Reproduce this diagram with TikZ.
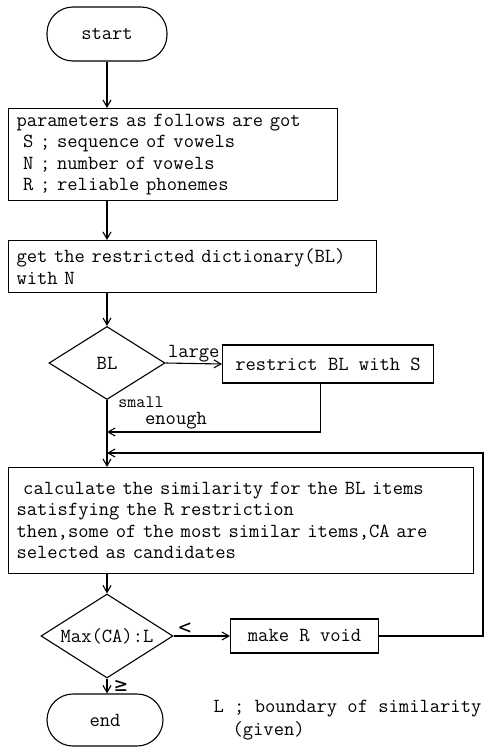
\documentclass[tikz,border=0pt]{standalone}
\usepackage{fontspec}
\newfontfamily\symfont{DejaVu Sans Mono}
\usetikzlibrary{shapes.geometric,arrows.meta,calc}
\newcommand\diagfont{\fontsize{20}{21.5}\selectfont\ttfamily}
\begin{document}
\begin{tikzpicture}[x=1pt,y=-1pt,
  line width=1.1pt,
  box/.style={draw, align=left, anchor=north west, inner xsep=8pt, inner ysep=0pt, font=\diagfont},
  cbox/.style={draw, align=center, inner sep=0pt, font=\diagfont},
  term/.style={draw, rounded corners=26pt, font=\diagfont, inner sep=0pt},
  dec/.style={draw, diamond, aspect=1.57, inner sep=0pt, font=\diagfont},
  arr/.style={-{Straight Barb[length=7pt,width=8pt]}},
  lbl/.style={font=\diagfont, inner sep=0pt},
  sym/.style={inner sep=0pt, font=\fontsize{21}{22}\selectfont\symfont}]
\useasboundingbox (0,0) rectangle (497,747);
\node[term, minimum width=120pt, minimum height=54pt] (start) at (107,34) {start};
\node[box, minimum width=329pt, minimum height=92pt, text width=313pt] (params) at (8,108)
  {parameters as follows are got\\\ S ; sequence of vowels\\\ N ; number of vowels\\\ R ; reliable phonemes};
\node[box, minimum width=368pt, minimum height=52pt, text width=352pt] (get) at (8,240)
  {get the restricted dictionary(BL)\\with N};
\node[dec, minimum width=116pt, minimum height=73pt] (d1) at (107,363) {BL};
\node[cbox, anchor=west, minimum width=211pt, minimum height=38pt] (restr) at (222,364) {restrict BL with S};
\node[box, minimum width=465pt, minimum height=106pt, text width=449pt] (calc) at (8,467)
  {\ calculate the similarity for the BL items\\satisfying the R restriction\\then,some of the most similar items,CA are\\selected as candidates};
\node[dec, minimum width=132pt, minimum height=84pt] (d2) at (107,636) {Max(CA):L};
\node[cbox, anchor=west, minimum width=148pt, minimum height=34pt] (void) at (230,636) {make R void};
\node[term, minimum width=116pt, minimum height=52pt] (end) at (105,720) {end};
\node[lbl, anchor=west] (leg1) at (213,709) {L ; boundary of similarity};
\node[lbl, anchor=west] (leg2) at (232,731) {(given)};
\coordinate (j1) at (107,432);
\coordinate (fb) at (483,453);
\coordinate (j2) at (107,453);
\draw[arr] (start.south) -- (start.south |- params.north);
\draw[arr] (start.south |- params.south) -- (start.south |- get.north);
\draw[arr] (d1.north |- get.south) -- (d1.north);
\draw[arr] (d1.east) -- node[lbl, above, yshift=1pt]{large} (restr.west);
\draw[arr] ([xshift=-8pt]restr.south) |- (j1);
\draw[arr] (d1.south) -- (d1.south |- calc.north);
\node[lbl, font=\fontsize{17.5}{18}\selectfont\ttfamily] (small) at (141,402) {small};
\node[lbl] (enough) at (176,421) {enough};
\draw[arr] (void.east) -| (fb) -- (j2);
\draw[arr] (d1.south |- calc.south) -- (d2.north);
\draw[arr] (d2.east) -- node[sym, above, pos=0.2, yshift=1pt]{<} (void.west);
\draw[arr] (d2.south) -- node[sym, right, xshift=7pt, pos=0.5]{≥} (d2.south |- end.north);
\end{tikzpicture}
\end{document}
